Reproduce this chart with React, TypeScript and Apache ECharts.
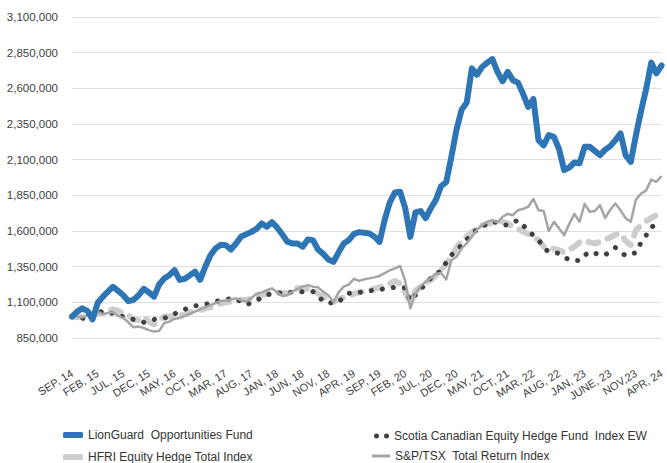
import React, { useEffect, useRef } from "react";
import * as echarts from "echarts";

// values in thousands of dollars (growth of $1,000,000), Sep 2014 .. Apr 2024, monthly
const lionGuard = [
  1000, 1035, 1058, 1040, 980, 1095, 1138, 1175, 1209, 1180,
  1150, 1108, 1118, 1150, 1195, 1170, 1140, 1225, 1268, 1290,
  1326, 1257, 1265, 1290, 1315, 1258, 1350, 1430, 1478, 1503,
  1500, 1470, 1512, 1562, 1577, 1594, 1615, 1653, 1630, 1662,
  1625, 1577, 1525, 1513, 1513, 1490, 1540, 1536, 1470, 1440,
  1400, 1384, 1450, 1513, 1536, 1580, 1592, 1588, 1583, 1560,
  1524, 1680, 1800, 1870, 1875, 1760, 1559, 1730, 1740, 1690,
  1760, 1820, 1915, 1942, 2120, 2310, 2450, 2500, 2740, 2695,
  2750, 2780, 2805, 2715, 2650, 2715, 2657, 2640, 2560, 2470,
  2525, 2237, 2200, 2272, 2260, 2175, 2027, 2045, 2080, 2075,
  2190, 2190, 2160, 2132, 2170, 2195, 2237, 2284, 2130, 2085,
  2270, 2440, 2595, 2780, 2705, 2760,
];

const scotia = [
  1000, 1000, 990, 975, 1010, 1040, 1030, 1020, 1025, 1010,
  1000, 990, 980, 971, 960, 970, 980, 985, 989, 1000,
  1020, 1030, 1050, 1069, 1075, 1081, 1085, 1095, 1105, 1115,
  1120, 1125, 1128, 1100, 1085, 1095, 1116, 1130, 1150, 1163,
  1165, 1165, 1170, 1172, 1175, 1175, 1178, 1175, 1150, 1104,
  1100, 1093, 1100, 1140, 1163, 1165, 1170, 1175, 1180, 1185,
  1190, 1195, 1200, 1205, 1209, 1200, 1110, 1151, 1190, 1230,
  1270, 1300, 1322, 1380, 1430, 1466, 1500, 1540, 1580, 1611,
  1630, 1650, 1664, 1660, 1645, 1641, 1660, 1676, 1640, 1600,
  1570, 1540, 1480, 1455, 1450, 1443, 1420, 1396, 1394, 1392,
  1430, 1455, 1445, 1431, 1431, 1460, 1484, 1455, 1426, 1440,
  1447, 1520, 1570, 1629, 1640, 1664,
];

const hfri = [
  1000, 995, 1000, 1010, 1015, 1025, 1030, 1040, 1050, 1040,
  1025, 1010, 980, 975, 1000, 965, 945, 975, 1000, 1000,
  1005, 1010, 1015, 1030, 1040, 1046, 1058, 1065, 1075, 1093,
  1100, 1105, 1110, 1116, 1116, 1125, 1140, 1151, 1160, 1165,
  1170, 1163, 1163, 1180, 1198, 1200, 1195, 1190, 1160, 1139,
  1115, 1104, 1120, 1135, 1145, 1160, 1170, 1175, 1186, 1195,
  1205, 1215, 1230, 1250, 1230, 1170, 1100, 1180, 1209, 1240,
  1256, 1290, 1326, 1370, 1420, 1480, 1530, 1560, 1590, 1620,
  1641, 1650, 1660, 1676, 1665, 1653, 1630, 1618, 1595, 1580,
  1560, 1536, 1490, 1480, 1475, 1466, 1450, 1470, 1490, 1520,
  1536, 1520, 1513, 1525, 1540, 1555, 1575, 1583, 1530, 1501,
  1606, 1640, 1670, 1690, 1711, 1735,
];

const spTsx = [
  1000, 1000, 995, 1010, 1030, 1035, 1015, 1025, 1030, 1005,
  990, 960, 925, 930, 920, 905, 895, 900, 955, 965,
  985, 990, 1005, 1020, 1035, 1050, 1065, 1080, 1095, 1110,
  1112, 1120, 1128, 1115, 1105, 1130, 1160, 1170, 1185, 1198,
  1170, 1145, 1150, 1175, 1195, 1210, 1221, 1210, 1205, 1175,
  1150, 1100, 1170, 1210, 1225, 1265, 1250, 1262, 1268, 1275,
  1285, 1305, 1325, 1338, 1355, 1250, 1058, 1160, 1215, 1245,
  1270, 1300, 1305, 1260, 1395, 1419, 1478, 1514, 1560, 1610,
  1640, 1665, 1676, 1660, 1700, 1720, 1711, 1746, 1755, 1770,
  1825, 1746, 1740, 1600, 1664, 1620, 1571, 1650, 1720, 1665,
  1790, 1735, 1740, 1781, 1690, 1750, 1793, 1745, 1690, 1665,
  1820, 1862, 1885, 1960, 1945, 1985,
];

const UNIT = 1000;

const tickLabels = [
  "SEP, 14", "FEB, 15", "JUL, 15", "DEC, 15", "MAY, 16", "OCT, 16",
  "MAR, 17", "AUG, 17", "JAN, 18", "JUN, 18", "NOV, 18", "APR, 19",
  "SEP, 19", "FEB, 20", "JUL, 20", "DEC, 20", "MAY, 21", "OCT, 21",
  "MAR, 22", "AUG, 22", "JAN, 23", "JUNE, 23", "NOV,23", "APR, 24",
];
const MONTHS = ["JAN", "FEB", "MAR", "APR", "MAY", "JUN", "JUL", "AUG", "SEP", "OCT", "NOV", "DEC"];
const LABEL_EVERY = 5;

const seriesNames = [
  "LionGuard  Opportunities Fund",
  "Scotia Canadian Equity Hedge Fund  Index EW",
  "HFRI Equity Hedge Total Index",
  "S&P/TSX  Total Return Index",
];

const categories = lionGuard.map((_, i) =>
  i % LABEL_EVERY === 0
    ? tickLabels[i / LABEL_EVERY]
    : `${MONTHS[(8 + i) % 12]}, ${14 + Math.floor((8 + i) / 12)}`
);

const toValues = (arr: number[]) => arr.map((v) => v * UNIT);

export default function App() {
  const ref = useRef<HTMLDivElement>(null);
  useEffect(() => {
    if (!ref.current) return;
    const chart = echarts.init(ref.current, null, { renderer: "svg" });
    const font = "Liberation Sans, Arial, sans-serif";
    const legendText = { fontSize: 12, color: "#333333", fontFamily: font };
    chart.setOption({
      animation: false,
      backgroundColor: "#ffffff",
      grid: { left: 72, right: 0, top: 17, bottom: 125, containLabel: false },
      xAxis: {
        type: "category",
        boundaryGap: false,
        data: categories,
        axisLine: { show: false },
        axisTick: { show: false },
        axisLabel: {
          interval: LABEL_EVERY - 1,
          rotate: 32,
          margin: 34,
          fontSize: 11,
          color: "#404040",
          fontFamily: font,
        },
        splitLine: { show: false },
      },
      yAxis: {
        type: "value",
        min: 850000,
        max: 3100000,
        interval: 250000,
        axisLine: { show: false },
        axisTick: { show: false },
        axisLabel: {
          margin: 14,
          fontSize: 11.5,
          color: "#404040",
          fontFamily: font,
          formatter: (v: number) => v.toLocaleString("en-US"),
        },
        splitLine: { lineStyle: { color: "#e0e0e0", width: 1 } },
      },
      legend: [
        {
          data: [{ name: seriesNames[0], icon: "roundRect" }],
          left: 58, top: 424, itemWidth: 20, itemHeight: 6,
          textStyle: legendText, selectedMode: false,
        },
        {
          data: [{ name: seriesNames[2], icon: "roundRect" }],
          left: 58, top: 446, itemWidth: 20, itemHeight: 6,
          textStyle: legendText, selectedMode: false,
        },
        {
          data: [{
            name: seriesNames[1],
            icon: "path://M0,2.5a2.5,2.5 0 1,0 5,0a2.5,2.5 0 1,0 -5,0M10,2.5a2.5,2.5 0 1,0 5,0a2.5,2.5 0 1,0 -5,0",
          }],
          left: 369, top: 425, itemWidth: 15, itemHeight: 5,
          textStyle: legendText, selectedMode: false,
        },
        {
          data: [{ name: seriesNames[3], icon: "rect" }],
          left: 367, top: 445, itemWidth: 18, itemHeight: 3,
          textStyle: legendText, selectedMode: false,
        },
      ],
      series: [
        {
          name: seriesNames[2],
          type: "line",
          data: toValues(hfri),
          showSymbol: false,
          color: "#cdcdcd",
          lineStyle: { color: "#cdcdcd", width: 6, type: [10, 10], cap: "round", join: "round" },
          z: 2,
          markLine: {
            silent: true,
            symbol: ["none", "none"],
            label: { show: false },
            lineStyle: { color: "#e0e0e0", type: "solid", width: 1 },
            data: [{ yAxis: 1000000 }],
            z: 1,
          },
        },
        {
          name: seriesNames[1],
          type: "line",
          data: toValues(scotia),
          showSymbol: false,
          color: "#404040",
          lineStyle: { color: "#404040", width: 5, type: [0.1, 11], cap: "round", join: "round" },
          z: 3,
        },
        {
          name: seriesNames[3],
          type: "line",
          data: toValues(spTsx),
          showSymbol: false,
          color: "#a5a5a5",
          lineStyle: { color: "#a5a5a5", width: 2.5, join: "round" },
          z: 4,
        },
        {
          name: seriesNames[0],
          type: "line",
          data: toValues(lionGuard),
          showSymbol: false,
          color: "#2e75b6",
          lineStyle: { color: "#2e75b6", width: 6, cap: "round", join: "round" },
          z: 5,
        },
      ],
    });
    return () => chart.dispose();
  }, []);
  return (
    <div
      ref={ref}
      style={{ position: "fixed", left: 0, top: 0, width: 667, height: 463, background: "#fff" }}
    />
  );
}
